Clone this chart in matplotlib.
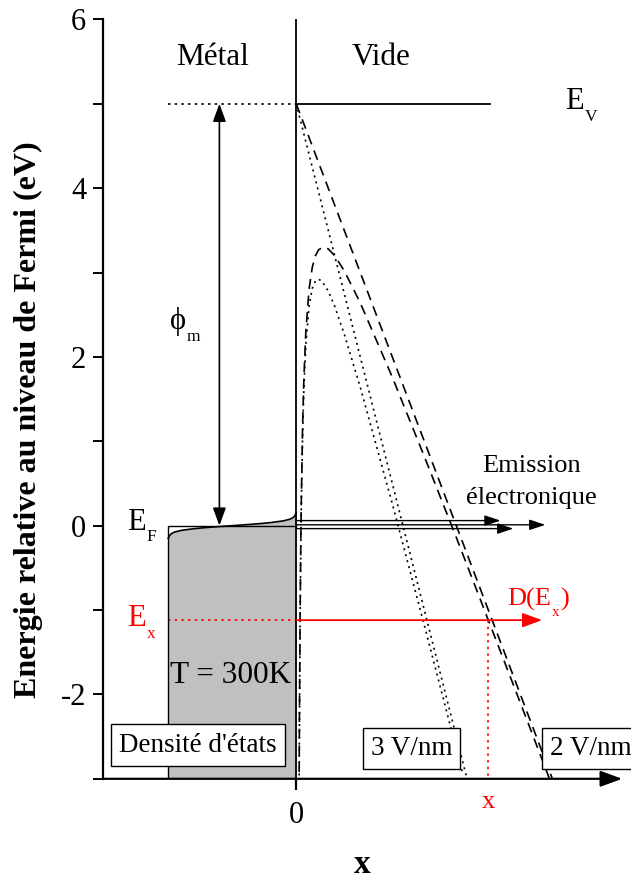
import matplotlib.pyplot as plt

plt.rcParams['font.family'] = ['Liberation Serif', 'DejaVu Serif']
plt.rcParams['axes.unicode_minus'] = False

# energies in eV, distance x in nm (x=0 is the metal surface)
phi_m = 5.0
E_x = -1.12

# occupied states in the metal (Fermi-Dirac edge at 300 K)
fd_x = [-2.0, -1.99, -1.98, -1.95, -1.9, -1.8, -1.6, -1.4, -1.2, -1.0,
        -0.8, -0.6, -0.4, -0.2, -0.1, -0.05, -0.02, -0.01, 0.0]
fd_E = [-0.15, -0.137, -0.119, -0.095, -0.076, -0.057, -0.036, -0.022, -0.0105, 0.0,
        0.0105, 0.022, 0.036, 0.057, 0.076, 0.095, 0.119, 0.137, 0.15]

# triangular barriers (no image charge)
tri3_x = [0.0, 2.667]
tri3_E = [5.0, -3.0]
tri2_x = [0.0, 4.0]
tri2_E = [5.0, -3.0]

# barriers with image charge (Schottky)
img3_x = [0.046, 0.05, 0.06, 0.07, 0.08, 0.1, 0.12, 0.15, 0.2, 0.25, 0.3, 0.346,
          0.4, 0.5, 0.6, 0.75, 1.0, 1.5, 2.0, 2.3, 2.6]
img3_E = [-2.96, -2.35, -1.18, -0.35, 0.26, 1.1, 1.64, 2.15, 2.6, 2.81, 2.9, 2.92,
          2.9, 2.78, 2.6, 2.27, 1.64, 0.26, -1.18, -2.06, -2.94]
img2_x = [0.046, 0.05, 0.06, 0.07, 0.08, 0.1, 0.12, 0.15, 0.2, 0.25, 0.3, 0.35,
          0.424, 0.5, 0.6, 0.75, 1.0, 1.5, 2.0, 2.5, 3.0, 3.5, 3.95]
img2_E = [-2.92, -2.3, -1.12, -0.28, 0.34, 1.2, 1.76, 2.3, 2.8, 3.06, 3.2, 3.27,
          3.3, 3.28, 3.2, 3.02, 2.64, 1.76, 0.82, -0.14, -1.12, -2.1, -2.99]

# emitted electrons near E_F: (energy, arrow end)
emis_E = [0.06, 0.01, -0.035]
emis_end = [3.19, 3.89, 3.39]

fig = plt.figure(figsize=(6.31, 8.8), dpi=100)
ax = fig.add_axes([0.163, 0.115, 0.823, 0.863])
ax.set_xlim(-3.02, 5.09)
ax.set_ylim(-3, 6)


def sub_text(x, y, main, sub, size, color='k', tail=''):
    # main text + lowered subscript (+ optional closing text), baseline at y
    sub_size = size * 0.57
    t = ax.text(x, y, main, fontsize=size, color=color, ha='left', va='baseline')
    fig.canvas.draw()
    w = t.get_window_extent().width * 72 / fig.dpi
    s = ax.annotate(sub, xy=(x, y), xytext=(w + 0.5, -0.68 * sub_size),
                    textcoords='offset points', fontsize=sub_size, color=color,
                    ha='left', va='baseline')
    if tail:
        fig.canvas.draw()
        ws = s.get_window_extent().width * 72 / fig.dpi
        ax.annotate(tail, xy=(x, y), xytext=(w + ws + 1.0, 0), textcoords='offset points',
                    fontsize=size, color=color, ha='left', va='baseline')


# metal: density of states box
ax.fill_between(fd_x, -3, fd_E, color='#c0c0c0', lw=0, zorder=1)
ax.plot(fd_x, fd_E, color='k', lw=1.2, zorder=3)
ax.plot([-2, -2, 0], [-3, 0, 0], color='k', lw=1.0, zorder=3)

# surface and vacuum level
ax.plot([0, 0], [-3, 6], color='k', lw=1.3, zorder=3)
ax.plot([0, 3.03], [phi_m, phi_m], color='k', lw=1.3)
ax.plot([-2, 0], [phi_m, phi_m], color='k', lw=1.2, ls=(0, (1.5, 2.5)))

# barriers
ax.plot(tri3_x, tri3_E, color='k', lw=1.2, ls=(0, (1.2, 2.5)))
ax.plot(img3_x, img3_E, color='k', lw=1.2, ls=(0, (1.2, 2.5)))
ax.plot(tri2_x, tri2_E, color='k', lw=1.2, ls=(0, (6, 4)))
ax.plot(img2_x, img2_E, color='k', lw=1.2, ls=(0, (6, 4)))

# work function arrow
ax.annotate('', xy=(-1.2, 0), xytext=(-1.2, phi_m),
            arrowprops=dict(arrowstyle='<|-|>,head_length=0.6,head_width=0.22', color='k',
                            lw=1.2, mutation_scale=18, shrinkA=0, shrinkB=0))
sub_text(-1.97, 2.33, '\u03d5', 'm', 22)

# emission arrows
for e, x_end in zip(emis_E, emis_end):
    ax.annotate('', xy=(x_end, e), xytext=(0, e),
                arrowprops=dict(arrowstyle='-|>,head_length=0.6,head_width=0.2', color='k',
                                lw=1.0, mutation_scale=16, shrinkA=0, shrinkB=0))

# E_x level
ax.plot([-2, 0], [E_x, E_x], color='red', lw=1.2, ls=(0, (1.5, 2.5)))
ax.annotate('', xy=(3.84, E_x), xytext=(0, E_x),
            arrowprops=dict(arrowstyle='-|>,head_length=0.6,head_width=0.22', color='red',
                            lw=1.3, mutation_scale=20, shrinkA=0, shrinkB=0))
ax.plot([3.0, 3.0], [E_x, -3], color='red', lw=1.2, ls=(0, (1.5, 2.5)))

# labels
ax.text(-1.3, 5.55, 'Métal', fontsize=22.5, ha='center', va='center')
ax.text(1.33, 5.55, 'Vide', fontsize=22.5, ha='center', va='center')
sub_text(4.2, 4.935, 'E', 'V', 22)
sub_text(-2.64, -0.047, 'E', 'F', 22)
sub_text(-2.64, -1.19, 'E', 'x', 22, color='red')
sub_text(3.3, -0.945, 'D(E', 'x', 19, color='red', tail=')')
ax.text(3.67, 0.64, 'Emission', fontsize=19, ha='center', va='baseline')
ax.text(3.67, 0.26, 'électronique', fontsize=19, ha='center', va='baseline')
ax.text(-1.03, -1.78, 'T = 300K', fontsize=22.5, ha='center', va='center')
ax.text(3.0, -3.27, 'x', fontsize=19, ha='center', va='center', color='red')

box = dict(boxstyle='square,pad=0.3', fc='white', ec='black', lw=1.0)
ax.text(-1.53, -2.6, "Densité d'états", fontsize=19.5, ha='center', va='center', bbox=box, zorder=5)
ax.text(1.8, -2.64, '3 V/nm', fontsize=19.5, ha='center', va='center', bbox=box, zorder=5)
ax.text(4.6, -2.64, '2 V/nm', fontsize=19.5, ha='center', va='center', bbox=box, zorder=5)

# axes
for s in ['top', 'right', 'bottom']:
    ax.spines[s].set_visible(False)
ax.spines['left'].set_linewidth(1.6)
ax.annotate('', xy=(5.09, -3), xytext=(-3.02, -3), xycoords='data',
            arrowprops=dict(arrowstyle='-|>,head_length=0.6,head_width=0.22', color='k',
                            lw=1.6, mutation_scale=22, shrinkA=0, shrinkB=0),
            annotation_clip=False)

ax.set_yticks([-2, 0, 2, 4, 6])
ax.set_yticks([-3, -1, 1, 3, 5], minor=True)
ax.set_xticks([0])
ax.set_xticklabels(['0'])
ax.tick_params(axis='y', which='both', direction='out', length=7, width=1.4, labelsize=22, pad=5)
ax.tick_params(axis='x', direction='out', length=8, width=1.6, labelsize=22, pad=8)

fig.text(28 / 631, 1 - 420 / 880, 'Energie relative au niveau de Fermi (eV)', fontsize=23,
         fontweight='bold', rotation=90, ha='center', va='center')
ax.set_xlabel('x', fontsize=24, fontweight='bold', labelpad=14)

fig.savefig('out.png', dpi=100)
